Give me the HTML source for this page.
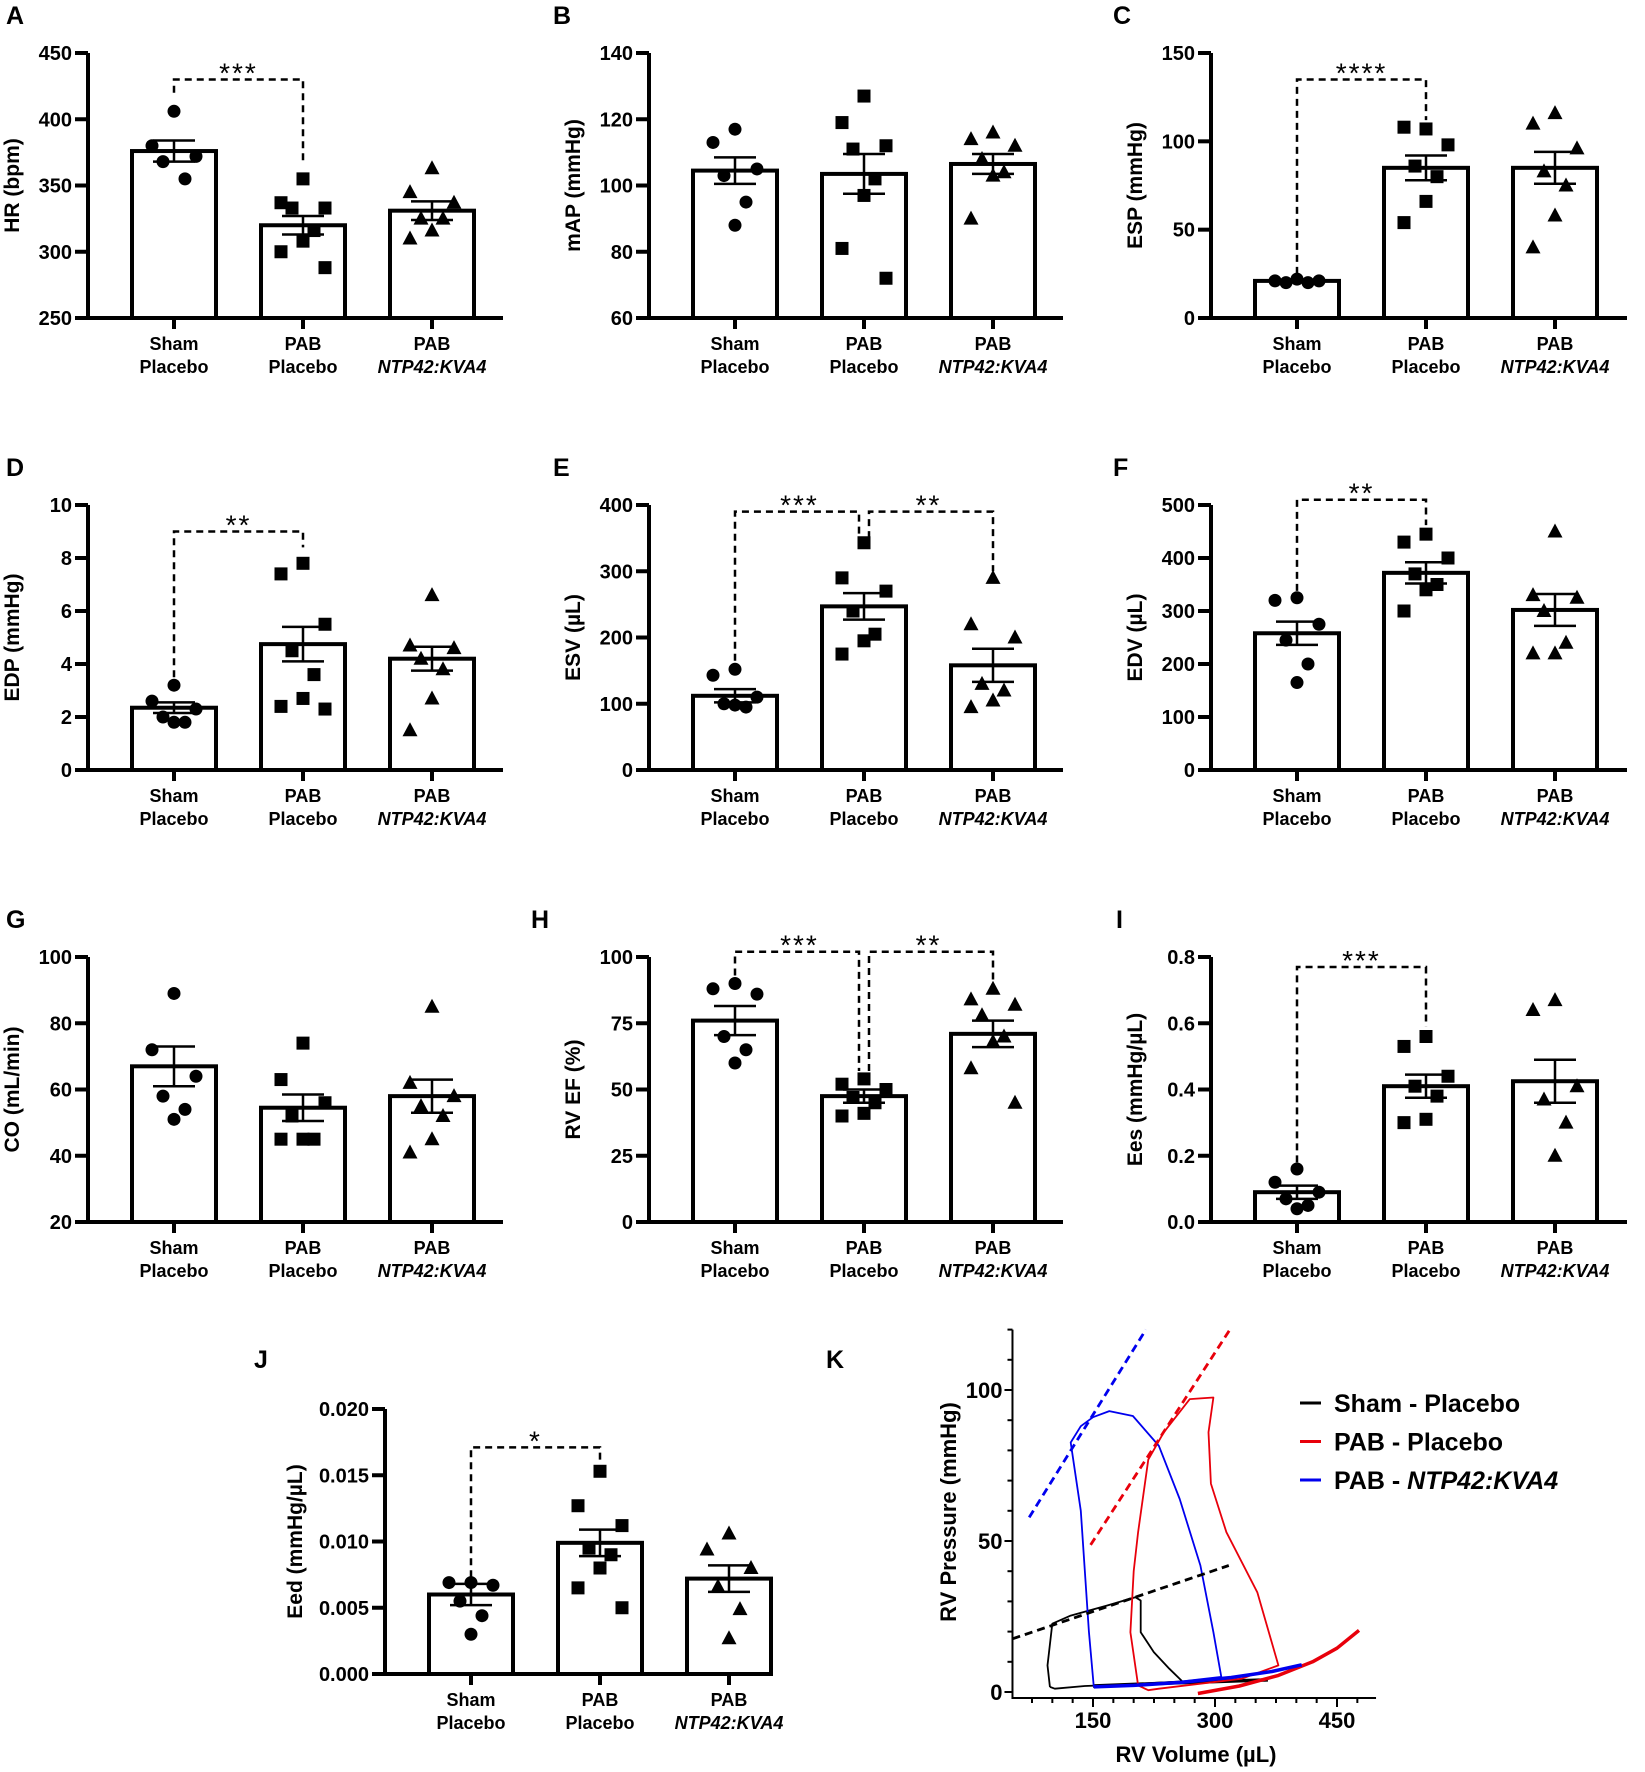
<!DOCTYPE html>
<html><head><meta charset="utf-8"><style>
html,body{margin:0;padding:0;background:#fff;}
svg{display:block;font-family:"Liberation Sans",Arial,sans-serif;}
</style></head><body>
<svg id="fig" width="1645" height="1772" viewBox="0 0 1645 1772" xmlns="http://www.w3.org/2000/svg"></svg>
<script>
// ---- Data arrays ----
const groups = ["Sham", "PAB", "PAB"];
const groups2 = ["Placebo", "Placebo", "NTP42:KVA4"];
const hrMeans=[376,320,331], hrSem=[8,7,7];
const hrSham=[406,380,372,368,355], hrPab=[355,337,333,333,316,308,300,288], hrKva=[363,345,337,325,325,316,310];
const mapMeans=[104.5,103.5,106.5], mapSem=[4,6,3];
const mapSham=[117,113,105,103,95,88], mapPab=[127,119,112,111,102,97,81,72], mapKva=[116,114,112,108,104,103,90];
const espMeans=[21,85,85], espSem=[0.6,7,9];
const espSham=[22,21,21,20,20], espPab=[107,108,98,86,80,66,54], espKva=[116,110,96,83,75,58,40];
const edpMeans=[2.35,4.75,4.2], edpSem=[0.2,0.65,0.45];
const edpSham=[3.2,2.6,2.3,2.0,1.8,1.8], edpPab=[7.8,7.4,5.5,4.5,3.6,2.7,2.4,2.3], edpKva=[6.6,4.7,4.6,4.2,3.8,2.7,1.5];
const esvMeans=[112,247,158], esvSem=[10,20,25];
const esvSham=[152,143,110,100,95,98], esvPab=[343,290,270,240,205,195,175], esvKva=[290,220,200,130,120,105,95];
const edvMeans=[258,372,302], edvSem=[22,20,30];
const edvSham=[325,320,275,245,200,165], edvPab=[445,430,400,370,350,340,300], edvKva=[450,330,325,300,240,220,220];
const coMeans=[67,54.5,58], coSem=[6,4,5];
const coSham=[89,72,64,58,54,51], coPab=[74,63,56,52,45,45,45], coKva=[85,62,58,55,52,45,41];
const efMeans=[76,47.5,71], efSem=[5.5,2.5,5];
const efSham=[90,88,86,70,65,60], efPab=[54,52,50,47,45,41,40], efKva=[88,84,82,78,70,68,58,45];
const eesMeans=[0.09,0.41,0.425], eesSem=[0.02,0.035,0.065];
const eesSham=[0.16,0.12,0.09,0.07,0.05,0.04], eesPab=[0.56,0.53,0.44,0.41,0.38,0.31,0.30], eesKva=[0.67,0.64,0.41,0.37,0.30,0.20];
const eedMeans=[0.006,0.0099,0.0072], eedSem=[0.0008,0.001,0.001];
const eedSham=[0.0069,0.0069,0.0067,0.0055,0.0044,0.0030], eedPab=[0.0153,0.0127,0.0112,0.0095,0.0090,0.0080,0.0065,0.0050], eedKva=[0.0106,0.0094,0.0080,0.0066,0.0049,0.0027];

// PV loops [volume, pressure]
const blueLoop=[[151,1.7],[145,20],[135,60],[122.6,82.6],[135,88],[150,91],[170,93],[199,91.4],[231,81.5],[256.6,63.9],[282,41.9],[298,19.8],[307.7,5],[230,2.6],[160,1.7],[151,1.7]];
const blueEdpvr=[[151,1.7],[200,2.2],[260,3.2],[320,4.8],[370,6.8],[406.6,9]];
const redLoop=[[205.5,2.2],[196,19.8],[200,40],[205.5,52.9],[218,77],[237,86],[269,97],[298,97.5],[292,86],[295,69],[314,52.9],[352,33],[378,8.8],[333,4.4],[231,1.1],[218,0.6],[205.5,2.2]];
const redEdpvr=[[279,-0.5],[330,2],[378,5.5],[420,10],[450,14.5],[477,20.4]];
const blackLoop=[[97,1.7],[94,8.8],[100,22.6],[122.6,25.3],[167,28.6],[202,31.4],[208.6,30.3],[208.6,19.8],[224.7,13.2],[243.8,7.7],[259.8,3.5],[200,2.6],[140,2],[103,1.1],[97,1.7]];
const blackEdpvr=[[150,2],[250,3],[365,4]];
const dashBlue=[[71.5,57.8],[215,120]];
const dashRed=[[147,48.7],[319,120.3]];
const dashBlack=[[51,17.6],[317,41.9]];
const kXTicks=[150,300,450];
const kYTicks=[0,50,100];

// ---- helpers ----
const NS="http://www.w3.org/2000/svg";
const svg=document.getElementById('fig');
function mk(tag,attrs,parent){const e=document.createElementNS(NS,tag);for(const k in attrs)e.setAttribute(k,attrs[k]);(parent||svg).appendChild(e);return e;}
function txt(s,x,y,size,anchor,parent,extra){const e=mk('text',Object.assign({x:x,y:y,'font-size':size,'font-weight':'bold','text-anchor':anchor||'middle',fill:'#000'},extra||{}),parent);e.textContent=s;return e;}
const jitter=[0,-22,22,-11,11,0,-22,22];

function panel(cfg){
  const g=mk('g',{});
  
  
  const y=v=>cfg.bottom-(v-cfg.min)/(cfg.max-cfg.min)*(cfg.bottom-cfg.top);
  const cx=i=>cfg.ax+86+i*129;
  const L=txt(cfg.letter,cfg.lx,cfg.ly,25,'start',g);
  
  
  const t=txt(cfg.title,0,0,21,'middle',g,{transform:`translate(${cfg.ax-(cfg.toff||69)},${(cfg.top+cfg.bottom)/2}) rotate(-90)`});
  
  
  const marks=[cfg.s0,cfg.s1,cfg.s2];
  for(let i=0;i<3;i++){
    const b=mk('rect',{x:cx(i)-42,y:y(cfg.means[i]),width:84,height:y(cfg.min)-y(cfg.means[i]),fill:'#fff',stroke:'#000','stroke-width':4},g);
    
    
    const pts=marks[i];
    pts.forEach((v,j)=>{
      const px=cx(i)+jitter[j%jitter.length], py=y(v);
      let m;
      if(i==0) m=mk('circle',{cx:px,cy:py,r:6.5,fill:'#000'},g);
      else if(i==1) m=mk('rect',{x:px-6.5,y:py-6.5,width:13,height:13,fill:'#000'},g);
      else m=mk('polygon',{points:`${px},${py-8} ${px-7.5},${py+6} ${px+7.5},${py+6}`,fill:'#000'},g);
      
      
    });
    const hi=y(cfg.means[i]+cfg.sem[i]), lo=y(cfg.means[i]-cfg.sem[i]);
    const eb=mk('path',{d:`M${cx(i)},${hi}V${lo}M${cx(i)-21},${hi}H${cx(i)+21}M${cx(i)-21},${lo}H${cx(i)+21}`,stroke:'#000','stroke-width':2.5,fill:'none'},g);
    
    
    mk('line',{x1:cx(i),x2:cx(i),y1:cfg.bottom,y2:cfg.bottom+11,stroke:'#000','stroke-width':4},g);
    const l1=txt(groups[i],cx(i),cfg.bottom+32,18,'middle',g);
    
    
    const l2=txt(groups2[i],cx(i),cfg.bottom+55,18,'middle',g,i==2?{'font-style':'italic'}:{});
    
    
  }
  const ax=mk('path',{d:`M${cfg.ax},${cfg.top}V${cfg.bottom}H${cfg.xe}`,stroke:'#000','stroke-width':4,fill:'none'},g);
  
  
  for(let v=cfg.min;v<=cfg.max+1e-9;v+=cfg.step){
    mk('line',{x1:cfg.ax-13,x2:cfg.ax,y1:y(v),y2:y(v),stroke:'#000','stroke-width':4},g);
    const tl=txt(v.toFixed(cfg.dec),cfg.ax-16,y(v)+7,20,'end',g);
    
    
  }
  (cfg.br||[]).forEach(b=>{
    const x1=cx(b[0])+(b[6]||0),x2=cx(b[1])+(b[7]||0),yt=y(b[2]);
    const p=mk('path',{d:`M${x1},${y(b[3])}V${yt}H${x2}V${y(b[4])}`,stroke:'#000','stroke-width':2.5,fill:'none','stroke-dasharray':'7 5'},g);
    
    
    const s=txt(b[5],(cx(b[0])+cx(b[1]))/2,yt+3,28,'middle',g,{'font-weight':'normal','letter-spacing':'2'});
    
    
  });
}
const C1=88,C2=649,C3=1211;
const R=[[53,318],[505,770],[957,1222]];
panel({name:'panel-a-hr',letter:'A',lx:6,ly:24,ax:C1,xe:503,top:R[0][0],bottom:R[0][1],min:250,max:450,step:50,dec:0,title:'HR (bpm)',means:hrMeans,sem:hrSem,s0:hrSham,s1:hrPab,s2:hrKva,br:[[0,1,430,420,366,'***']]});
panel({name:'panel-b-map',letter:'B',lx:553,ly:24,ax:C2,xe:1063,top:R[0][0],bottom:R[0][1],min:60,max:140,step:20,dec:0,title:'mAP (mmHg)',means:mapMeans,sem:mapSem,s0:mapSham,s1:mapPab,s2:mapKva});
panel({name:'panel-c-esp',letter:'C',lx:1113,ly:24,ax:C3,xe:1627,top:R[0][0],bottom:R[0][1],min:0,max:150,step:50,dec:0,title:'ESP (mmHg)',means:espMeans,sem:espSem,s0:espSham,s1:espPab,s2:espKva,br:[[0,1,135,25,112,'****']]});
panel({name:'panel-d-edp',letter:'D',lx:6,ly:476,ax:C1,xe:503,top:R[1][0],bottom:R[1][1],min:0,max:10,step:2,dec:0,title:'EDP (mmHg)',means:edpMeans,sem:edpSem,s0:edpSham,s1:edpPab,s2:edpKva,br:[[0,1,9,3.5,8.4,'**']]});
panel({name:'panel-e-esv',letter:'E',lx:553,ly:476,ax:C2,xe:1063,top:R[1][0],bottom:R[1][1],min:0,max:400,step:100,dec:0,title:'ESV (µL)',means:esvMeans,sem:esvSem,s0:esvSham,s1:esvPab,s2:esvKva,br:[[0,1,390,165,350,'***',0,-5],[1,2,390,350,300,'**',5,0]]});
panel({name:'panel-f-edv',letter:'F',lx:1113,ly:476,ax:C3,xe:1627,top:R[1][0],bottom:R[1][1],min:0,max:500,step:100,dec:0,title:'EDV (µL)',means:edvMeans,sem:edvSem,s0:edvSham,s1:edvPab,s2:edvKva,br:[[0,1,510,338,462,'**']]});
panel({name:'panel-g-co',letter:'G',lx:6,ly:928,ax:C1,xe:503,top:R[2][0],bottom:R[2][1],min:20,max:100,step:20,dec:0,title:'CO (mL/min)',means:coMeans,sem:coSem,s0:coSham,s1:coPab,s2:coKva});
panel({name:'panel-h-ef',letter:'H',lx:531,ly:928,ax:C2,xe:1063,top:R[2][0],bottom:R[2][1],min:0,max:100,step:25,dec:0,title:'RV EF (%)',means:efMeans,sem:efSem,s0:efSham,s1:efPab,s2:efKva,br:[[0,1,102,93,57,'***',0,-5],[1,2,102,57,91,'**',5,0]]});
panel({name:'panel-i-ees',letter:'I',lx:1116,ly:928,ax:C3,xe:1627,top:R[2][0],bottom:R[2][1],min:0,max:0.8,step:0.2,dec:1,title:'Ees (mmHg/µL)',means:eesMeans,sem:eesSem,s0:eesSham,s1:eesPab,s2:eesKva,br:[[0,1,0.77,0.18,0.59,'***']]});
panel({name:'panel-j-eed',letter:'J',lx:254,ly:1368,ax:385,xe:771,top:1409,bottom:1674,min:0,max:0.02,step:0.005,dec:3,title:'Eed (mmHg/µL)',toff:83,means:eedMeans,sem:eedSem,s0:eedSham,s1:eedPab,s2:eedKva,br:[[0,1,0.0171,0.0073,0.0160,'*']]});
// ---- Panel K ----
(function(){
  const g=mk('g',{});
  
  
  const X=v=>1093+(v-150)*(122/150);
  const Y=p=>1692-p*3.02;
  const axL=X(51), axB=1698, axT=Y(120), axR=X(498);
  const L=txt('K',826,1368,25,'start',g);
  
  
  const ax=mk('path',{d:`M${axL},${axT}V${axB}H${axR}`,stroke:'#000','stroke-width':2,fill:'none'},g);
  
  
  for(let v=75;v<=490;v+=25){mk('line',{x1:X(v),x2:X(v),y1:axB,y2:axB+(v%150==0?9:5),stroke:'#000','stroke-width':2},g);}
  for(let p=0;p<=120;p+=10){mk('line',{x1:axL-(p%50==0?8:5),x2:axL,y1:Y(p),y2:Y(p),stroke:'#000','stroke-width':2},g);}
  kXTicks.forEach(v=>{const t=txt(String(v),X(v),1728,22,'middle',g,{'font-family':'"Liberation Sans Narrow","Liberation Sans",sans-serif'});});
  kYTicks.forEach(p=>{const t=txt(String(p),axL-10,Y(p)+8,22,'end',g,{'font-family':'"Liberation Sans Narrow","Liberation Sans",sans-serif'});});
  const xt=txt('RV Volume (µL)',1196,1762,22,'middle',g,{'font-family':'"Liberation Sans Narrow","Liberation Sans",sans-serif'});
  
  
  const yt=txt('RV Pressure (mmHg)',0,0,22,'middle',g,{transform:`translate(956,1512) rotate(-90)`,'font-family':'"Liberation Sans Narrow","Liberation Sans",sans-serif'});
  
  
  const path=pts=>pts.map((p,i)=>(i?'L':'M')+X(p[0]).toFixed(1)+','+Y(p[1]).toFixed(1)).join('');
  const lines=[
    [blackLoop,'#000',1.8,null,'sham-loop'],[blackEdpvr,'#000',3.5,null,'sham-edpvr'],
    [redLoop,'#e8000b',1.8,null,'pab-loop'],[redEdpvr,'#e8000b',3.5,null,'pab-edpvr'],
    [blueLoop,'#0000ee',1.8,null,'kva4-loop'],[blueEdpvr,'#0000ee',3.5,null,'kva4-edpvr'],
    [dashBlue,'#0000ee',2.8,'8 5','kva4-espvr'],[dashRed,'#e8000b',2.8,'8 5','pab-espvr'],[dashBlack,'#000',2.8,'8 5','sham-espvr']];
  lines.forEach(l=>{
    const a={d:path(l[0]),stroke:l[1],'stroke-width':l[2],fill:'none','stroke-linejoin':'round'};
    if(l[3])a['stroke-dasharray']=l[3];
    const e=mk('path',a,g);
    
    
  });
  const leg=[['Sham - Placebo','#000',''],['PAB - Placebo','#e8000b',''],['PAB - ','#0000ee','NTP42:KVA4']];
  leg.forEach((l,i)=>{
    const yy=1403+i*38.5;
    const lg=mk('g',{},g);
    
    
    mk('line',{x1:1300,x2:1321,y1:yy,y2:yy,stroke:l[1],'stroke-width':3},lg);
    const t=txt(l[0],1334,yy+9,25,'start',lg,{'font-family':'"Liberation Sans Narrow","Liberation Sans",sans-serif'});
    if(l[2]){const ts=document.createElementNS(NS,'tspan');ts.setAttribute('font-style','italic');ts.textContent=l[2];t.appendChild(ts);}
  });
})();
</script>
</body></html>
